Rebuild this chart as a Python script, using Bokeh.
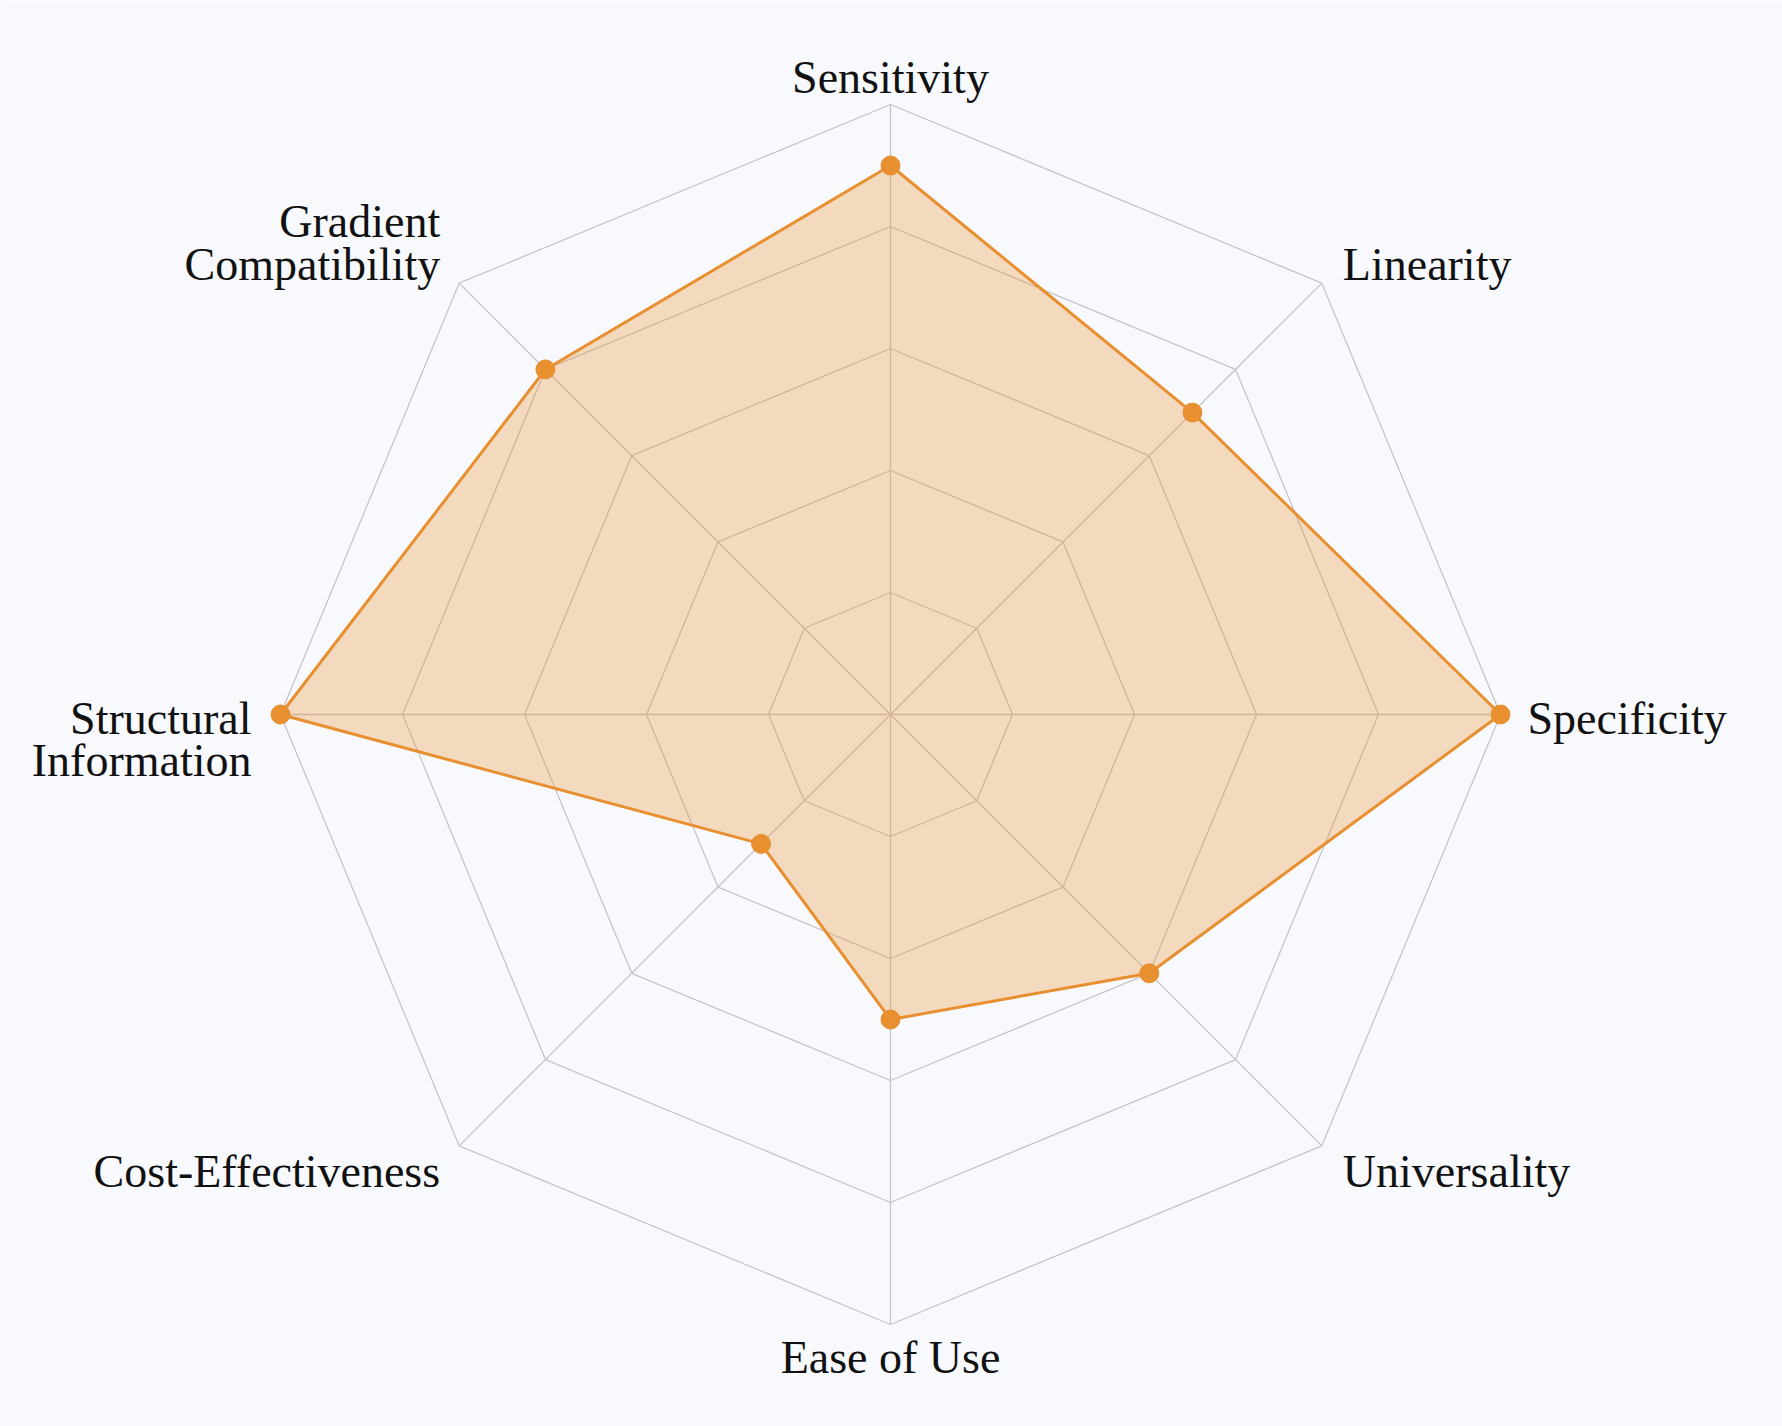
import numpy as np
from bokeh.plotting import figure
from bokeh.models import ColumnDataSource, Range1d
from bokeh.core.properties import value
from bokeh.embed import file_html
from bokeh.resources import INLINE

categories = ["Sensitivity", "Linearity", "Specificity", "Universality", "Ease of Use",
              "Cost-Effectiveness", "Structural\nInformation", "Gradient\nCompatibility"]
scores = [4.5, 3.5, 5.0, 3.0, 2.5, 1.5, 5.0, 4.0]
levels = [1, 2, 3, 4, 5]
max_level = 5

W, H = 1782, 1426
cx_px, cy_px = 890, 714
ppu = 610 / max_level

BG = "#F8F9FD"
ORANGE = "#E88F30"
GRID = "#C6C6CA"
FONT = "Liberation Serif"

p = figure(width=W, height=H, output_backend="svg", toolbar_location=None,
           x_range=Range1d(-cx_px / ppu, (W - cx_px) / ppu),
           y_range=Range1d(-(H - cy_px) / ppu, cy_px / ppu),
           min_border=0, background_fill_color=BG, border_fill_color=BG)
p.axis.visible = False
p.grid.visible = False
p.outline_line_color = None

n = len(categories)
theta = np.pi / 2 - 2 * np.pi * np.arange(n) / n
cos_t, sin_t = np.cos(theta), np.sin(theta)

# grid rings
for lv in levels:
    xs = list(lv * cos_t) + [lv * cos_t[0]]
    ys = list(lv * sin_t) + [lv * sin_t[0]]
    p.line(xs, ys, line_color=GRID, line_width=1.3)
# spokes
p.multi_line([[0, max_level * c] for c in cos_t], [[0, max_level * s] for s in sin_t],
             line_color=GRID, line_width=1.3)

# data
vals = np.array(scores)
dx = vals * cos_t
dy = vals * sin_t
p.patch(list(dx), list(dy), fill_color=ORANGE, fill_alpha=0.3, line_color=None)
p.line(list(dx) + [dx[0]], list(dy) + [dy[0]], line_color=ORANGE, line_width=3)
p.scatter(dx, dy, size=19, fill_color=ORANGE, line_color=ORANGE)

# labels
lx, ly, align, base, xo, yo = [], [], [], [], [], []
for c, s in zip(cos_t, sin_t):
    lx.append(max_level * c)
    ly.append(max_level * s)
    if c > 0.1:
        align.append("left"); xo.append(27 if abs(s) < 0.1 else 21)
    elif c < -0.1:
        align.append("right"); xo.append(-29 if abs(s) < 0.1 else -19)
    else:
        align.append("center"); xo.append(0)
    if s > 0.9:
        base.append("bottom"); yo.append(-2)
    elif s < -0.9:
        base.append("top"); yo.append(7)
    elif s > 0.1:
        base.append("bottom"); yo.append(7)
    elif s < -0.1:
        base.append("top"); yo.append(0)
    else:
        base.append("top"); yo.append(-22)

src = ColumnDataSource(dict(x=lx, y=ly, text=categories, align=align, base=base, xo=xo, yo=yo))
p.text(x="x", y="y", text="text", source=src, text_align="align", text_baseline="base",
       x_offset="xo", y_offset="yo", text_font=value(FONT), text_font_size="46px",
       text_color="#111111", text_line_height=0.84)

open("out.html", "w").write(file_html(p, INLINE))
